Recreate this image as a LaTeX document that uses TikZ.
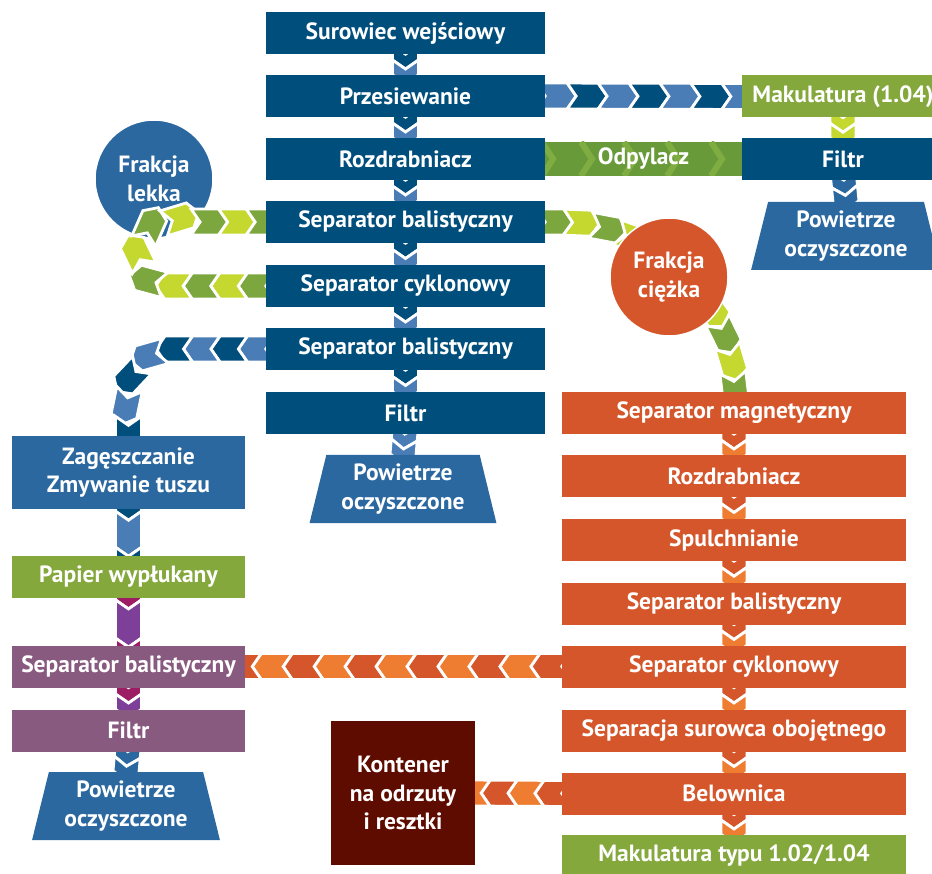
\documentclass[tikz,border=0pt]{standalone}
\usepackage{fontspec}
\setmainfont{PT Sans}
\usetikzlibrary{decorations.markings, shapes.geometric}

% palette
\definecolor{dkblue}{HTML}{004E7C}
\definecolor{ltblue}{HTML}{4A7DB5}
\definecolor{mdblue}{HTML}{2B68A0}
\definecolor{grbox}{HTML}{85A83D}
\definecolor{limechev}{HTML}{C4D82F}
\definecolor{grchev}{HTML}{7CA63E}
\definecolor{odgreen}{HTML}{699A3A}
\definecolor{odlight}{HTML}{80AD42}
\definecolor{orbox}{HTML}{D5562B}
\definecolor{orlight}{HTML}{EE7D32}
\definecolor{purbox}{HTML}{895A7F}
\definecolor{plumchev}{HTML}{9C1D63}
\definecolor{violchev}{HTML}{7E3F98}
\definecolor{maroonbox}{HTML}{5E0C00}

\pgfdeclarelayer{bottom}
\pgfdeclarelayer{chains}
\pgfsetlayers{bottom,chains,main}

\newcommand\boxfont{\fontsize{23.5}{28.5}\selectfont\bfseries}

% one chevron of a chain, coloured alternately
\newcommand\chevpiece[3]{%
  \pgfmathtruncatemacro\chevseq{\pgfkeysvalueof{/pgf/decoration/mark info/sequence number}}%
  \ifodd\chevseq\def\chevfill{#1}\else\def\chevfill{#2}\fi
  \pgfmathsetlengthmacro\chevlen{\pgfdecoratedpathlength/#3}%
  \path[fill=\chevfill, draw=white, line width=2.8pt, line join=miter]
    (0pt,-13pt) -- (\chevlen,-13pt) -- ++(9pt,13pt) -- ++(-9pt,13pt)
    -- (0pt,13pt) -- (9pt,0pt) -- cycle;
}

\tikzset{
  chevchain/.style n args={3}{
    decoration={markings,
      mark=between positions 0 and 1-0.5/#3 step 1/#3 with {\chevpiece{#1}{#2}{#3}}},
    decorate},
  box/.style={rectangle, inner sep=0pt, minimum height=42pt, text=white,
    font=\boxfont, align=center},
  cbox/.style={box, fill=dkblue, minimum width=279pt},
  obox/.style={box, fill=orbox, minimum width=344pt},
  lbox/.style={box, minimum width=233pt},
  rbox/.style={box, minimum width=202pt},
  trap/.style={trapezium, trapezium stretches=true, trapezium left angle=75,
    trapezium right angle=75, minimum height=68pt, inner sep=0pt,
    fill=mdblue, text=white, font=\boxfont, align=center},
  circ/.style={circle, inner sep=0pt, minimum size=118pt, text=white,
    font=\boxfont, align=center, draw=white, line width=1.5pt},
}

\begin{document}
\begin{tikzpicture}[x=1pt, y=-1pt]
\useasboundingbox (0,0) rectangle (932,874);
\clip (0,0) rectangle (932,874);
\begin{pgfonlayer}{bottom}
  \fill[white] (0,0) rectangle (932,874);
\end{pgfonlayer}

% ---------- centre column ----------
\node[cbox] (sur)  at (405.5,33)  {Surowiec wejściowy};
\node[cbox] (prz)  at (405.5,96)  {Przesiewanie};
\node[cbox] (roz)  at (405.5,159) {Rozdrabniacz};
\node[cbox] (balA) at (405.5,222) {Separator balistyczny};
\node[cbox] (cyk)  at (405.5,286) {Separator cyklonowy};
\node[cbox] (balB) at (405.5,349) {Separator balistyczny};
\node[cbox] (filC) at (405.5,413) {Filtr};
\node[trap, minimum width=187pt] (powC) at (403,489) {Powietrze\\oczyszczone};

% ---------- right top branch ----------
\node[rbox, fill=grbox] (makA) at (843,96.5) {Makulatura (1.04)};
\node[rbox, fill=dkblue] (filR) at (843,159) {Filtr};
\node[trap, minimum width=190pt] (powR) at (846,236) {Powietrze\\oczyszczone};
\node[box, fill=odgreen, minimum width=197pt, minimum height=34pt,
  path picture={
    \foreach \dx in {-3,36,79,122,166}
      \draw[odlight, line width=6pt]
        ([xshift=\dx pt]path picture bounding box.north west)
        -- ++(11pt,-17pt) -- ++(-11pt,-17pt);
  }] (odp) at (643.5,159) {Odpylacz};

% ---------- orange column ----------
\node[obox] (mag)  at (734,413)   {Separator magnetyczny};
\node[obox] (rozB) at (734,476)   {Rozdrabniacz};
\node[obox] (spul) at (734,540)   {Spulchnianie};
\node[obox] (balC) at (734,603.5) {Separator balistyczny};
\node[obox] (cykB) at (734,666.5) {Separator cyklonowy};
\node[obox] (sepO) at (734,730.5) {Separacja surowca obojętnego};
\node[obox] (bel)  at (734,793.5) {Belownica};
\node[obox, fill=grbox] (makB) at (734,855.5) {Makulatura typu 1.02/1.04};

% ---------- left column ----------
\node[lbox, fill=mdblue, minimum height=73pt] (zag) at (128.5,472.5) {Zagęszczanie\\Zmywanie tuszu};
\node[lbox, fill=grbox]  (pap)  at (128.5,576.5) {Papier wypłukany};
\node[lbox, fill=purbox] (balL) at (128.5,666.5) {Separator balistyczny};
\node[lbox, fill=purbox] (filL) at (128.5,730.5) {Filtr};
\node[trap, minimum width=188pt] (powL) at (126,806) {Powietrze\\oczyszczone};

\node[box, fill=maroonbox, minimum width=144pt, minimum height=144pt] (kont) at (403,793) {Kontener\\na odrzuty\\i resztki};

% ---------- fraction circles ----------
\begin{pgfonlayer}{bottom}
  \node[circ, fill=mdblue] (lek) at (154,179) {Frakcja\\lekka};
\end{pgfonlayer}
\node[circ, fill=orbox] (cie) at (669,277) {Frakcja\\ciężka};

% ---------- chevron connectors ----------
\begin{pgfonlayer}{chains}
  % centre column
  \path[chevchain={dkblue}{ltblue}{2}] ([yshift=9pt]sur.south) -- (prz.north);
  \path[chevchain={dkblue}{ltblue}{2}] ([yshift=9pt]prz.south) -- (roz.north);
  \path[chevchain={dkblue}{ltblue}{2}] ([yshift=9pt]roz.south) -- (balA.north);
  \path[chevchain={dkblue}{ltblue}{2}] ([yshift=9pt]balA.south) -- (cyk.north);
  \path[chevchain={dkblue}{ltblue}{2}] ([yshift=9pt]cyk.south) -- (balB.north);
  \path[chevchain={dkblue}{ltblue}{2}] ([yshift=9pt]balB.south) -- (filC.north);
  \path[chevchain={ltblue}{ltblue}{2}] ([yshift=9pt]filC.south) -- (powC.north);

  % right top branch
  \path[chevchain={ltblue}{dkblue}{7}] ([xshift=-9pt]prz.east) -- ([xshift=11pt]makA.west);
  \path[chevchain={limechev}{limechev}{2}] ([yshift=9pt]makA.south) -- (filR.north);
  \path[chevchain={mdblue}{mdblue}{2}] ([yshift=9pt]filR.south) -- (powR.north);

  % light fraction loop
  \path[chevchain={grchev}{limechev}{11}] ([xshift=9pt]cyk.west) -- (173,286)
    .. controls (155.3,286) and (141,271.7) .. (141,254)
    .. controls (141,236.3) and (155.3,222) .. (173,222)
    -- ([xshift=8pt]balA.west);

  % heavy fraction arc
  \path[chevchain={grchev}{limechev}{11}] ([xshift=-9pt]balA.east) -- (556,222)
    .. controls (654,222) and (734,298) .. (734,392)
    -- ([yshift=-8pt]mag.north);

  % corner towards de-inking
  \path[chevchain={ltblue}{dkblue}{8}] ([xshift=9pt]balB.west) -- (179,349)
    .. controls (151.4,349) and (128.5,371.4) .. (128.5,399)
    -- ([yshift=-8pt]zag.north);

  % left column
  \path[chevchain={dkblue}{ltblue}{3}] ([yshift=34pt]zag.south) -- ([yshift=-28pt]pap.north);
  \path[chevchain={plumchev}{violchev}{3}] ([yshift=36pt]pap.south) -- ([yshift=-31pt]balL.north);
  \path[chevchain={plumchev}{violchev}{2}] ([yshift=9pt]balL.south) -- (filL.north);
  \path[chevchain={mdblue}{mdblue}{2}] ([yshift=9pt]filL.south) -- (powL.north);

  % orange column
  \path[chevchain={orbox}{orlight}{2}] ([yshift=9pt]mag.south) -- (rozB.north);
  \path[chevchain={orbox}{orlight}{2}] ([yshift=9pt]rozB.south) -- (spul.north);
  \path[chevchain={orbox}{orlight}{2}] ([yshift=9pt]spul.south) -- (balC.north);
  \path[chevchain={orbox}{orlight}{2}] ([yshift=9pt]balC.south) -- (cykB.north);
  \path[chevchain={orbox}{orlight}{2}] ([yshift=9pt]cykB.south) -- (sepO.north);
  \path[chevchain={orbox}{orlight}{2}] ([yshift=9pt]sepO.south) -- (bel.north);
  \path[chevchain={orbox}{orlight}{2}] ([yshift=9pt]bel.south) -- (makB.north);

  % side outputs of the orange column
  \path[chevchain={orbox}{orlight}{11}] ([xshift=9pt]cykB.west) -- ([xshift=-15pt]balL.east);
  \path[chevchain={orbox}{orlight}{4}] ([xshift=9pt]bel.west) -- ([xshift=-12pt]kont.east);
\end{pgfonlayer}

\end{tikzpicture}
\end{document}
